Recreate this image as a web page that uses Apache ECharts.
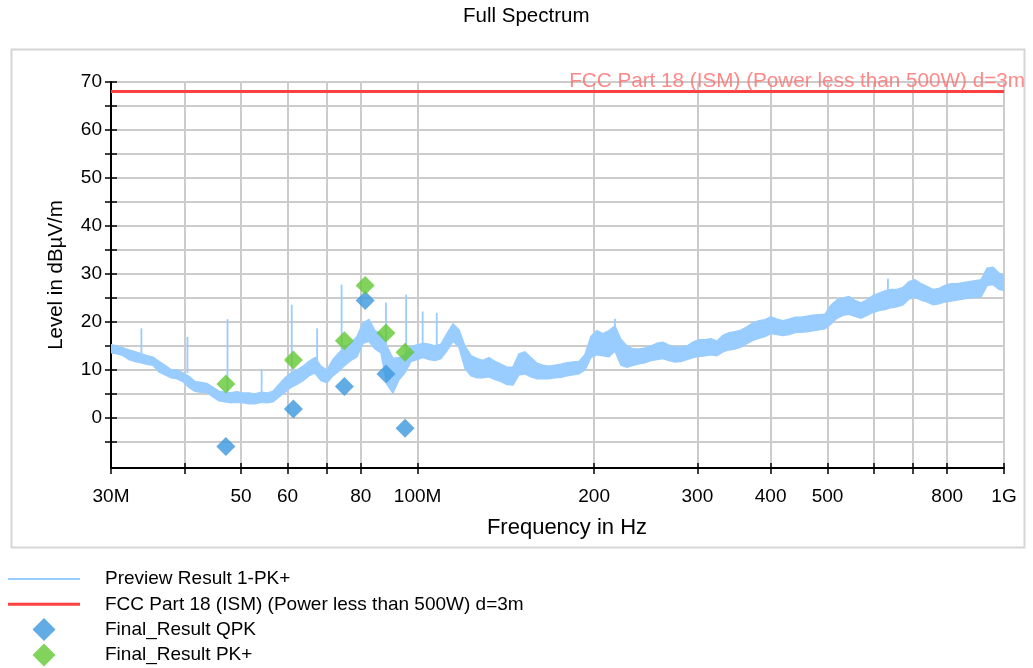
<!DOCTYPE html>
<html>
<head>
<meta charset="utf-8">
<script src="https://cdn.jsdelivr.net/npm/echarts@6/dist/echarts.min.js"></script>
<style>
html,body{margin:0;padding:0;background:#fff;}
#chart{width:1033px;height:668px;}
</style>
</head>
<body>
<div id="chart"></div>
<script>
// ---------- data (frequencies in MHz, levels in dBµV/m) ----------
const titleText = 'Full Spectrum';
const traceName = 'Preview Result 1-PK+';
const limitName = 'FCC Part 18 (ISM) (Power less than 500W) d=3m';
const qpkName = 'Final_Result QPK';
const pkName = 'Final_Result PK+';

const freqMHz = [
  30.00, 30.72, 31.45, 32.20, 32.96, 33.75, 34.56, 35.38, 36.22, 37.09,
  37.97, 38.88, 39.80, 40.75, 41.72, 42.72, 43.73, 44.78, 45.84, 46.94,
  48.06, 49.20, 50.38, 51.58, 52.81, 54.07, 55.35, 56.67, 58.02, 59.40,
  60.82, 62.27, 63.76, 65.27, 66.83, 68.42, 70.05, 71.72, 73.43, 75.18,
  76.97, 78.81, 80.69, 82.61, 84.58, 86.59, 88.66, 90.77, 92.94, 95.15,
  97.42, 99.74, 102.1, 104.6, 107.1, 109.6, 112.2, 114.9, 117.6, 120.4,
  123.3, 126.2, 129.2, 132.3, 135.5, 138.7, 142.0, 145.4, 148.9, 152.4,
  156.0, 159.8, 163.6, 167.5, 171.5, 175.6, 179.8, 184.0, 188.4, 192.9,
  197.5, 202.2, 207.0, 212.0, 217.0, 222.2, 227.5, 232.9, 238.5, 244.2,
  250.0, 255.9, 262.0, 268.3, 274.7, 281.2, 287.9, 294.8, 301.8, 309.0,
  316.4, 323.9, 331.6, 339.5, 347.6, 355.9, 364.4, 373.1, 382.0, 391.1,
  400.4, 410.0, 419.8, 429.8, 440.0, 450.5, 461.2, 472.2, 483.5, 495.0,
  506.8, 518.9, 531.3, 544.0, 556.9, 570.2, 583.8, 597.7, 612.0, 626.6,
  641.5, 656.8, 672.5, 688.5, 705.0, 721.8, 739.0, 756.6, 774.7, 793.2,
  812.1, 831.5, 851.3, 871.6, 892.4, 913.7, 935.5, 957.8, 980.6, 1000
];
const traceHigh = [
  15.3, 15.0, 14.6, 14.2, 13.8, 13.4, 13.0, 12.7, 11.8, 11.0,
  10.1, 10.0, 9.4, 8.7, 7.6, 7.4, 7.2, 6.4, 5.6, 5.4,
  5.3, 5.5, 5.2, 5.2, 5.0, 5.4, 5.2, 5.6, 7.0, 8.4,
  9.4, 10.0, 10.8, 11.8, 12.6, 10.8, 10.0, 12.2, 13.6, 14.8,
  15.6, 17.0, 19.8, 20.5, 18.2, 17.6, 15.0, 12.4, 12.6, 13.2,
  14.9, 15.2, 15.6, 15.4, 15.0, 15.4, 17.6, 19.6, 18.4, 15.0,
  13.0, 12.4, 12.0, 12.6, 11.8, 11.2, 10.6, 10.6, 13.4, 13.8,
  12.6, 11.4, 11.0, 10.8, 11.0, 11.2, 11.5, 11.7, 11.8, 13.2,
  17.0, 18.2, 17.6, 18.2, 19.2, 16.4, 15.0, 14.4, 14.4, 14.6,
  15.0, 15.6, 15.8, 15.2, 14.8, 14.8, 15.0, 15.8, 16.3, 16.3,
  16.5, 16.0, 17.2, 17.8, 18.0, 18.3, 19.0, 19.8, 20.3, 20.5,
  21.1, 20.6, 20.3, 20.6, 21.0, 21.0, 21.2, 21.4, 21.5, 21.6,
  23.5, 24.6, 25.0, 25.3, 24.5, 24.0, 24.6, 25.5, 26.0, 26.5,
  26.8, 26.8, 27.2, 28.4, 28.8, 28.0, 27.4, 26.8, 27.0, 27.6,
  28.0, 28.0, 28.2, 28.4, 28.6, 28.8, 31.2, 31.4, 30.2, 29.6
];
const traceLow = [
  13.6, 13.4, 13.0, 12.2, 11.8, 11.5, 11.2, 11.0, 9.6, 9.0,
  8.4, 8.2, 7.6, 6.4, 5.6, 5.4, 5.3, 4.4, 3.6, 3.4,
  3.2, 3.3, 3.2, 3.0, 3.0, 3.3, 3.2, 3.4, 4.4, 5.4,
  6.4, 7.0, 7.8, 8.8, 9.4, 7.8, 7.4, 8.8, 9.8, 11.0,
  12.0, 12.8, 15.6, 16.0, 14.4, 13.6, 7.0, 5.2, 8.0, 9.4,
  11.8, 12.2, 12.6, 12.2, 12.0, 12.4, 14.0, 16.0, 14.8, 10.4,
  8.8, 8.4, 8.4, 8.6, 8.0, 7.6, 7.0, 6.9, 9.0, 9.2,
  8.6, 8.2, 8.2, 8.2, 8.4, 8.5, 8.8, 9.0, 9.2, 10.0,
  12.6, 13.2, 13.0, 12.8, 14.0, 11.0, 10.6, 11.0, 11.3, 11.5,
  12.0, 12.2, 12.4, 12.0, 11.7, 11.8, 12.2, 12.6, 12.8, 13.0,
  13.2, 13.0, 13.8, 14.2, 14.4, 14.8, 15.5, 16.2, 16.6, 17.0,
  17.6, 17.4, 17.2, 17.4, 17.8, 17.9, 18.0, 18.2, 18.4, 18.6,
  19.6, 20.8, 21.4, 21.6, 21.2, 20.8, 21.4, 22.0, 22.4, 22.6,
  23.0, 23.2, 23.6, 24.8, 25.2, 24.6, 24.2, 23.6, 23.8, 24.2,
  24.4, 24.6, 24.8, 25.0, 25.2, 25.2, 27.6, 27.8, 26.8, 26.6
];
// narrow spikes of the preview trace
const spikeMHz  = [33.8, 40.5, 47.4, 54.2, 61.0, 67.4, 74.2, 88.3, 95.6, 102.0, 107.8, 217.0, 634.0];
const spikeBase = [13.4, 9.4, 5.4, 5.0, 9.0, 12.0, 13.0, 15.0, 13.0, 15.0, 15.0, 18.0, 26.0];
const spikeTop  = [18.7, 16.9, 20.6, 10.1, 23.6, 18.7, 27.8, 24.0, 25.7, 22.2, 21.9, 20.7, 29.0];

const limitMHz = [30, 1000];
const limitLevel = [68, 68];

const finalMHz = [47.1, 61.4, 75.0, 81.4, 88.3, 95.2];
const qpkLevel = [-5.9, 1.9, 6.6, 24.5, 9.2, -2.1];
const pkLevel  = [7.1, 12.1, 16.1, 27.6, 17.7, 13.7];

const xTickMHz  = [30, 40, 50, 60, 70, 80, 100, 200, 300, 400, 500, 600, 700, 800, 1000];
const xLabelMHz = [30, 50, 60, 80, 100, 200, 300, 400, 500, 800, 1000];
const xLabelText = ['30M', '50', '60', '80', '100M', '200', '300', '400', '500', '800', '1G'];
const yTicks  = [-5, 0, 5, 10, 15, 20, 25, 30, 35, 40, 45, 50, 55, 60, 65, 70];
const yLabels = [0, 10, 20, 30, 40, 50, 60, 70];
const yMin = -10.4, yMax = 70;

// ---------- build ----------
const L = Math.log10;
const traceColor = '#99ccff';
const limitColor = '#ff4040';
const qpkColor = '#3b97de';
const pkColor = '#62c832';
const font = 'Liberation Sans, Arial, sans-serif';
const labelMap = {};
xLabelMHz.forEach((f, i) => { labelMap[Math.round(f)] = xLabelText[i]; });

const chart = echarts.init(document.getElementById('chart'));
const tickStyle = { color: '#000', width: 1.5 };
const diamondIcon = 'path://M9,0L18,9L9,18L0,9Z';

const option = {
  backgroundColor: '#fff',
  animation: false,
  textStyle: { fontFamily: font },
  title: {
    text: titleText, left: 458, top: 1,
    textStyle: { fontFamily: font, fontSize: 20.5, fontWeight: 'normal', color: '#000' }
  },
  graphic: [{
    type: 'rect', left: 9, top: 47, z: -10,
    shape: { width: 1013, height: 498 },
    style: { fill: 'none', stroke: '#d6d6d6', lineWidth: 2 }
  }],
  grid: { left: 111, right: 29, top: 82, bottom: 200, containLabel: false },
  xAxis: [{
    type: 'value', min: L(30), max: L(1000), position: 'bottom',
    name: 'Frequency in Hz', nameLocation: 'middle', nameGap: 49,
    nameTextStyle: { fontFamily: font, fontSize: 22, color: '#000', padding: [0, 0, 0, 19] },
    axisLine: { onZero: false, lineStyle: { color: '#000', width: 2 } },
    axisTick: { show: true, length: 6, customValues: xTickMHz.map(L), lineStyle: tickStyle },
    axisLabel: {
      customValues: xLabelMHz.map(L), margin: 19, fontSize: 19, color: '#000', fontFamily: font,
      formatter: v => labelMap[Math.round(Math.pow(10, v))] || ''
    },
    splitLine: { show: true, lineStyle: { color: '#cccccc', width: 2 } }
  }, {
    type: 'value', min: L(30), max: L(1000), position: 'bottom',
    axisLine: { show: false, onZero: false },
    axisTick: { show: true, inside: true, length: 5, customValues: xTickMHz.map(L), lineStyle: tickStyle },
    axisLabel: { show: false }, splitLine: { show: false }
  }],
  yAxis: [{
    type: 'value', min: yMin, max: yMax, position: 'left',
    name: 'Level in dBµV/m', nameLocation: 'middle', nameGap: 44,
    nameTextStyle: { fontFamily: font, fontSize: 20.5, color: '#000' },
    axisLine: { show: true, onZero: false, lineStyle: { color: '#000', width: 2 } },
    axisTick: { show: true, length: 6, customValues: yTicks, lineStyle: tickStyle },
    axisLabel: { customValues: yLabels, margin: 9, fontSize: 19, color: '#000', fontFamily: font },
    splitLine: { show: true, lineStyle: { color: '#cccccc', width: 2 } }
  }, {
    type: 'value', min: yMin, max: yMax, position: 'left',
    axisLine: { show: false, onZero: false },
    axisTick: { show: true, inside: true, length: 6, customValues: yTicks, lineStyle: tickStyle },
    axisLabel: { show: false }, splitLine: { show: false }
  }],
  legend: {
    orient: 'vertical', left: 8, top: 566.5, padding: 0, height: 101.5,
    itemWidth: 72, itemHeight: 23, itemGap: 0.3,
    textStyle: { fontFamily: font, fontSize: 19, lineHeight: 25, color: '#000', padding: [0, 0, 0, 20] },
    data: [
      { name: traceName, icon: 'path://M0,0H72V2H0Z' },
      { name: limitName, icon: 'path://M0,0H72V3H0Z' },
      { name: qpkName, icon: diamondIcon },
      { name: pkName, icon: diamondIcon }
    ]
  },
  series: [
    {
      name: traceName, type: 'line', data: [], symbol: 'none',
      color: traceColor, lineStyle: { color: traceColor, width: 2 }
    },
    {
      name: traceName, type: 'custom', color: traceColor, clip: true, z: 2,
      data: freqMHz.map((f, i) => [L(f), traceLow[i], traceHigh[i]]),
      encode: { x: 0, y: [1, 2] },
      renderItem: function (params, api) {
        if (params.dataIndex !== 0) return null;
        const pts = [];
        for (let i = 0; i < freqMHz.length; i++) pts.push(api.coord([L(freqMHz[i]), traceHigh[i]]));
        for (let i = freqMHz.length - 1; i >= 0; i--) pts.push(api.coord([L(freqMHz[i]), traceLow[i]]));
        const children = [{
          type: 'polygon', shape: { points: pts },
          style: { fill: traceColor, stroke: traceColor, lineWidth: 1.5 }
        }];
        for (let j = 0; j < spikeMHz.length; j++) {
          const a = api.coord([L(spikeMHz[j]), spikeBase[j]]);
          const b = api.coord([L(spikeMHz[j]), spikeTop[j]]);
          children.push({
            type: 'line', shape: { x1: a[0], y1: a[1], x2: b[0], y2: b[1] },
            style: { stroke: traceColor, lineWidth: 1.8 }
          });
        }
        return { type: 'group', children: children };
      }
    },
    {
      name: limitName, type: 'line', symbol: 'none', z: 3,
      color: limitColor, lineStyle: { color: limitColor, width: 3 },
      data: limitMHz.map((f, i) => [L(f), limitLevel[i]])
    },
    {
      name: 'limit-label', type: 'scatter', symbol: 'circle', symbolSize: 1, z: 4,
      silent: true, itemStyle: { color: 'rgba(0,0,0,0)' },
      data: [[L(limitMHz[limitMHz.length - 1]), limitLevel[limitLevel.length - 1]]],
      label: {
        show: true, position: 'top', align: 'right', distance: 3, offset: [21, 4],
        formatter: limitName, color: '#ff6a6a', fontSize: 20.7, fontFamily: font
      }
    },
    {
      name: qpkName, type: 'scatter', symbol: 'diamond', symbolSize: 19, z: 5,
      color: qpkColor, itemStyle: { color: qpkColor },
      data: finalMHz.map((f, i) => [L(f), qpkLevel[i]])
    },
    {
      name: pkName, type: 'scatter', symbol: 'diamond', symbolSize: 19, z: 6,
      color: pkColor, itemStyle: { color: pkColor },
      data: finalMHz.map((f, i) => [L(f), pkLevel[i]])
    }
  ]
};
chart.setOption(option);
</script>
</body>
</html>
